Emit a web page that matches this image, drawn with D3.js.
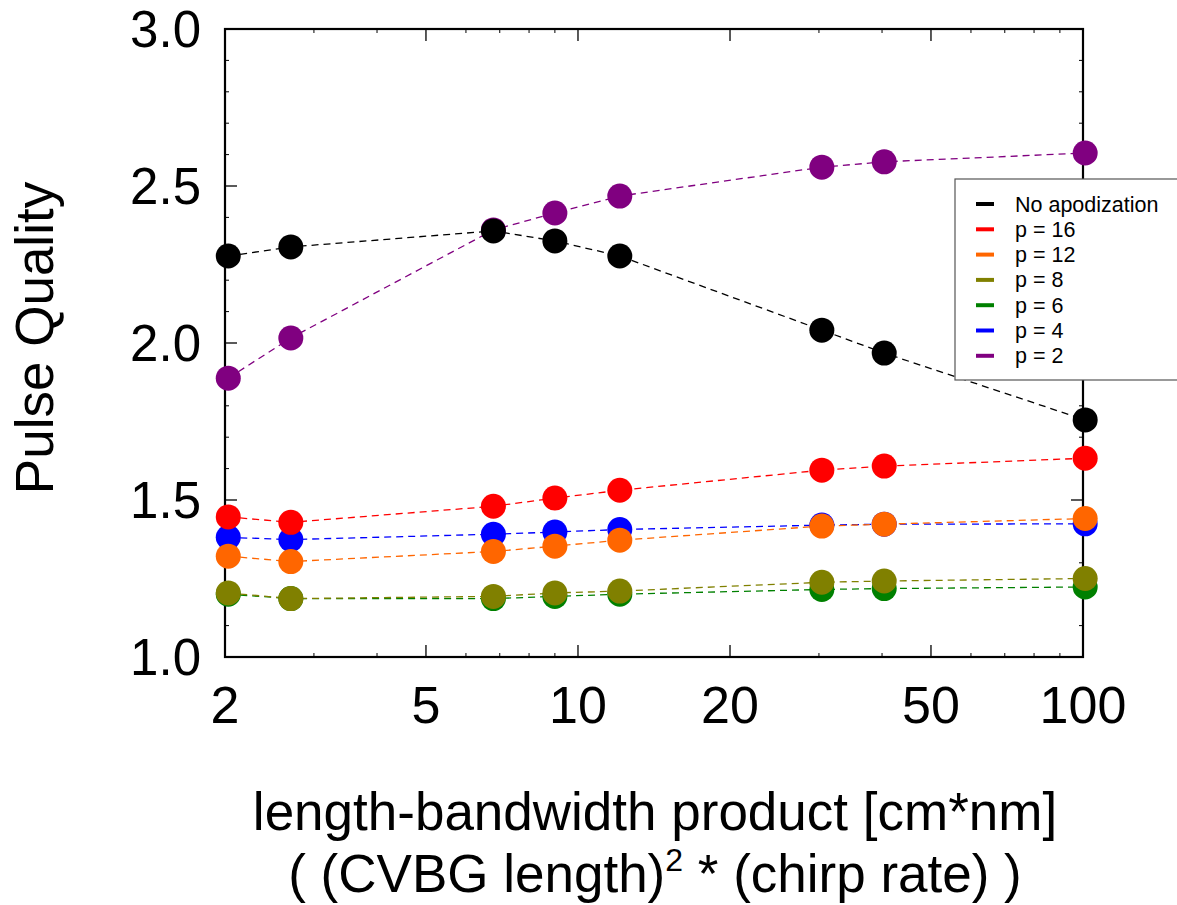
<!DOCTYPE html>
<html>
<head>
<meta charset="utf-8">
<script src="https://cdn.jsdelivr.net/npm/d3@7"></script>
<style>
  body { margin: 0; background: #fff; }
  svg { font-family: "Liberation Sans", Arial, sans-serif; }
</style>
</head>
<body>
<div id="chart"></div>
<script>
// data
const lbProduct = [2.03, 2.7, 6.8, 9.0, 12.1, 30.4, 40.4, 101];
const seriesNames = ["No apodization", "p = 16", "p = 12", "p = 8", "p = 6", "p = 4", "p = 2"];
const seriesColors = ["#000000", "#ff0000", "#ff6600", "#808000", "#008000", "#0000ff", "#800080"];
const noApod = [2.277, 2.306, 2.357, 2.325, 2.277, 2.041, 1.968, 1.755];
const p16 = [1.446, 1.429, 1.480, 1.506, 1.531, 1.595, 1.608, 1.633];
const p12 = [1.321, 1.304, 1.336, 1.353, 1.372, 1.417, 1.423, 1.441];
const p8 = [1.204, 1.186, 1.193, 1.204, 1.210, 1.238, 1.242, 1.250];
const p6 = [1.200, 1.186, 1.186, 1.193, 1.200, 1.215, 1.218, 1.223];
const p4 = [1.381, 1.374, 1.391, 1.398, 1.406, 1.420, 1.423, 1.424];
const p2 = [1.888, 2.016, 2.360, 2.414, 2.468, 2.560, 2.577, 2.605];
const seriesValues = [noApod, p16, p12, p8, p6, p4, p2];
const xTickValues = [2, 5, 10, 20, 50, 100];
const yTickValues = [1.0, 1.5, 2.0, 2.5, 3.0];

const width = 1177;
const height = 905;
const margin = { top: 29, bottom: 248, left: 225, right: 94 };

const svg = d3.select("div#chart")
  .append("svg")
  .attr("width", width)
  .attr("height", height);

const x = d3.scaleLog().domain([2, 100]).range([margin.left, width - margin.right]);
const y = d3.scaleLinear().domain([1, 3]).range([height - margin.bottom, margin.top]);

// minor ticks
const xMinor = d3.range(3, 10).concat(d3.range(30, 100, 10))
  .filter(v => !xTickValues.includes(v));
const yMinor = d3.range(10, 31).map(v => v / 10)
  .filter(v => !yTickValues.some(t => Math.abs(t - v) < 1e-6));

const ticks = svg.append("g").attr("stroke", "#000");

// bottom & top x ticks (inward)
[[y.range()[0], -1], [y.range()[1], 1]].forEach(([yy, dir]) => {
  ticks.selectAll(null).data(xTickValues).join("line")
    .attr("x1", d => x(d)).attr("x2", d => x(d))
    .attr("y1", yy).attr("y2", yy + dir * 12)
    .attr("stroke-width", 1.3);
  ticks.selectAll(null).data(xMinor).join("line")
    .attr("x1", d => x(d)).attr("x2", d => x(d))
    .attr("y1", yy).attr("y2", yy + dir * 4)
    .attr("stroke-width", 1);
});
// left & right y ticks
[[x.range()[0], 1], [x.range()[1], -1]].forEach(([xx, dir]) => {
  ticks.selectAll(null).data(yTickValues).join("line")
    .attr("y1", d => y(d)).attr("y2", d => y(d))
    .attr("x1", xx).attr("x2", xx + dir * 12)
    .attr("stroke-width", 1.3);
  ticks.selectAll(null).data(yMinor).join("line")
    .attr("y1", d => y(d)).attr("y2", d => y(d))
    .attr("x1", xx).attr("x2", xx + dir * 4)
    .attr("stroke-width", 1);
});

// frame
svg.append("rect")
  .attr("x", x.range()[0]).attr("y", y.range()[1])
  .attr("width", x.range()[1] - x.range()[0])
  .attr("height", y.range()[0] - y.range()[1])
  .attr("fill", "none").attr("stroke", "#000").attr("stroke-width", 2.2);

// tick labels
svg.append("g").selectAll("text").data(xTickValues).join("text")
  .attr("x", d => x(d)).attr("y", 723)
  .attr("text-anchor", "middle")
  .attr("font-size", 52)
  .text(d => d);

svg.append("g").selectAll("text").data(yTickValues).join("text")
  .attr("x", 201).attr("y", d => y(d) + 18)
  .attr("text-anchor", "end")
  .attr("font-size", 51)
  .text(d => d3.format(".1f")(d));

// axis titles
svg.append("text")
  .attr("transform", "translate(53,338) rotate(-90)")
  .attr("text-anchor", "middle")
  .attr("font-size", 53)
  .text("Pulse Quality");

svg.append("text")
  .attr("x", 655).attr("y", 830)
  .attr("text-anchor", "middle")
  .attr("font-size", 53)
  .text("length-bandwidth product [cm*nm]");

const t2 = svg.append("text")
  .attr("x", 655).attr("y", 892)
  .attr("text-anchor", "middle")
  .attr("font-size", 53);
t2.append("tspan").text("( (CVBG length)");
t2.append("tspan").attr("font-size", 32).attr("dy", -21).text("2");
t2.append("tspan").attr("dy", 21).text(" * (chirp rate) )");

// lines & points
const line = d3.line().x((d, i) => x(lbProduct[i])).y(d => y(d));
const order = [6, 5, 4, 3, 2, 1, 0];

const plot = svg.append("g");
order.forEach(k => {
  plot.append("path")
    .attr("d", line(seriesValues[k]))
    .attr("fill", "none")
    .attr("stroke", seriesColors[k])
    .attr("stroke-width", 1.3)
    .attr("stroke-dasharray", "7,5");
});
order.forEach(k => {
  plot.append("g").selectAll("circle").data(seriesValues[k]).join("circle")
    .attr("cx", (d, i) => x(lbProduct[i]))
    .attr("cy", d => y(d))
    .attr("r", 12.5)
    .attr("fill", seriesColors[k]);
});

// legend
const legend = svg.append("g").attr("transform", "translate(955,179)");
legend.append("rect")
  .attr("width", 240).attr("height", 201)
  .attr("fill", "#fff").attr("stroke", "#555").attr("stroke-width", 1.2);
const rows = legend.selectAll("g.row").data(seriesNames).join("g")
  .attr("class", "row")
  .attr("transform", (d, i) => `translate(0, ${25 + i * 25.3})`);
rows.append("line")
  .attr("x1", 21).attr("x2", 39)
  .attr("stroke", (d, i) => seriesColors[i])
  .attr("stroke-width", 4);
rows.append("text")
  .attr("x", 60).attr("y", 7.5)
  .attr("font-size", 21.5)
  .text(d => d);
</script>
</body>
</html>
